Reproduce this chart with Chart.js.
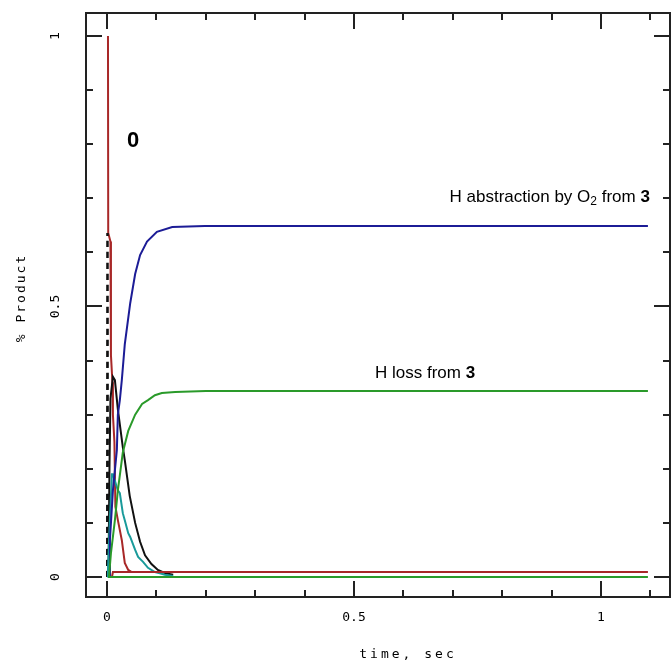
<!DOCTYPE html>
<html>
<head>
<meta charset="utf-8">
<script src="https://cdn.jsdelivr.net/npm/chart.js@4"></script>
<style>
  body { margin: 0; background: #fff; }
  canvas { display: block; }
</style>
</head>
<body>
<canvas id="chart" width="671" height="664"></canvas>
<script>
// [time in sec, fraction of product]
const reactant0 = [
  [0.002, 1.0], [0.0025, 0.636], [0.007, 0.62], [0.008, 0.41], [0.011, 0.36],
  [0.012, 0.30], [0.015, 0.25], [0.017, 0.13], [0.022, 0.105], [0.03, 0.068],
  [0.036, 0.026], [0.043, 0.013], [0.05, 0.009]
];
const minorRed = [[0.010, 0], [0.012, 0.009], [1.095, 0.009]];
const spikeDashed = [[0.0005, 0], [0.001, 0.636], [0.0015, 0]];
const blackInter = [
  [0.003, 0], [0.005, 0.2], [0.007, 0.33], [0.012, 0.37], [0.016, 0.364],
  [0.022, 0.31], [0.032, 0.24], [0.036, 0.216], [0.046, 0.15], [0.057, 0.10],
  [0.067, 0.065], [0.077, 0.04], [0.09, 0.024], [0.103, 0.013], [0.118, 0.007],
  [0.134, 0.004]
];
const tealInter = [
  [0.001, 0], [0.002, 0.013], [0.006, 0.11], [0.01, 0.19], [0.012, 0.19],
  [0.022, 0.16], [0.026, 0.155], [0.032, 0.118], [0.036, 0.105], [0.043, 0.081],
  [0.047, 0.074], [0.057, 0.05], [0.063, 0.037], [0.073, 0.028], [0.083, 0.017],
  [0.097, 0.009], [0.107, 0.007], [0.117, 0.004], [0.134, 0.002]
];
const abstractionO2 = [
  [0.005, 0], [0.006, 0.07], [0.012, 0.16], [0.02, 0.235], [0.022, 0.30],
  [0.026, 0.327], [0.03, 0.364], [0.036, 0.43], [0.047, 0.506], [0.057, 0.56],
  [0.067, 0.595], [0.081, 0.62], [0.101, 0.638], [0.132, 0.647], [0.198, 0.649],
  [1.095, 0.649]
];
const hLoss = [
  [0.004, 0], [0.008, 0.044], [0.016, 0.105], [0.022, 0.16], [0.032, 0.23],
  [0.043, 0.27], [0.057, 0.30], [0.071, 0.32], [0.083, 0.327], [0.097, 0.336],
  [0.111, 0.34], [0.138, 0.342], [0.2, 0.344], [1.095, 0.344]
];
const greenZero = [[0.002, 0], [1.095, 0]];

const xMinor = [0, 0.1, 0.2, 0.3, 0.4, 0.5, 0.6, 0.7, 0.8, 0.9, 1, 1.1];
const yMinor = [0, 0.1, 0.2, 0.3, 0.4, 0.5, 0.6, 0.7, 0.8, 0.9, 1];
const majorTicks = [0, 0.5, 1];
const tickLabels = ['0', '0.5', '1'];

const toXY = arr => arr.map(p => ({ x: p[0], y: p[1] }));
const line = (data, color, extra) => Object.assign({
  data: toXY(data), borderColor: color, borderWidth: 2,
  showLine: true, pointRadius: 0, fill: false, tension: 0
}, extra || {});

const axisFont = '13px "DejaVu Sans Mono"';

function drawRich(ctx, parts, x, y, alignRight) {
  let total = 0;
  parts.forEach(p => { ctx.font = p.font; total += ctx.measureText(p.t).width; });
  let cx = alignRight ? x - total : x;
  parts.forEach(p => {
    ctx.font = p.font;
    ctx.fillText(p.t, cx, y + (p.dy || 0));
    cx += ctx.measureText(p.t).width;
  });
}

const framePlugin = {
  id: 'frame',
  afterDraw(chart) {
    const { ctx, chartArea: a, scales: { x, y } } = chart;
    ctx.save();
    ctx.strokeStyle = '#222';
    ctx.lineWidth = 2;
    ctx.strokeRect(a.left, a.top, a.right - a.left, a.bottom - a.top);

    ctx.beginPath();
    xMinor.forEach(v => {
      const px = Math.round(x.getPixelForValue(v));
      const len = majorTicks.includes(v) ? 16 : 7;
      ctx.moveTo(px, a.top); ctx.lineTo(px, a.top + len);
      ctx.moveTo(px, a.bottom); ctx.lineTo(px, a.bottom - len);
    });
    yMinor.forEach(v => {
      const py = Math.round(y.getPixelForValue(v));
      const len = majorTicks.includes(v) ? 16 : 7;
      ctx.moveTo(a.left, py); ctx.lineTo(a.left + len, py);
      ctx.moveTo(a.right, py); ctx.lineTo(a.right - len, py);
    });
    ctx.stroke();

    // axis labels
    ctx.fillStyle = '#000';
    ctx.font = axisFont;
    ctx.textAlign = 'center';
    ctx.textBaseline = 'middle';
    majorTicks.forEach((v, i) => {
      ctx.fillText(tickLabels[i], x.getPixelForValue(v), 618);
      ctx.save();
      ctx.translate(56, y.getPixelForValue(v));
      ctx.rotate(-Math.PI / 2);
      ctx.fillText(tickLabels[i], 0, 0);
      ctx.restore();
    });
    ctx.letterSpacing = '3px';
    ctx.fillText('time, sec', 408, 655);
    ctx.letterSpacing = '2px';
    ctx.save();
    ctx.translate(22, 298);
    ctx.rotate(-Math.PI / 2);
    ctx.fillText('% Product', 0, 0);
    ctx.restore();
    ctx.letterSpacing = '0px';

    // annotations
    ctx.textAlign = 'left';
    ctx.textBaseline = 'alphabetic';
    ctx.fillStyle = '#000';
    ctx.font = 'bold 22px "Liberation Sans"';
    ctx.fillText('0', x.getPixelForValue(0.0405), y.getPixelForValue(0.795));
    const reg = '17px "Liberation Sans"', bold = 'bold 17px "Liberation Sans"';
    drawRich(ctx, [
      { t: 'H abstraction by O', font: reg },
      { t: '2', font: '12px "Liberation Sans"', dy: 3 },
      { t: ' from ', font: reg },
      { t: '3', font: bold }
    ], x.getPixelForValue(1.099), y.getPixelForValue(0.693), true);
    drawRich(ctx, [
      { t: 'H loss from ', font: reg },
      { t: '3', font: bold }
    ], x.getPixelForValue(0.5425), y.getPixelForValue(0.368), false);
    ctx.restore();
  }
};

new Chart(document.getElementById('chart'), {
  type: 'scatter',
  data: {
    datasets: [
      line(greenZero, '#2a9a2a'),
      line(minorRed, '#a82828'),
      line(hLoss, '#2a9a2a'),
      line(abstractionO2, '#1c1c96'),
      line(tealInter, '#1a9a9a'),
      line(blackInter, '#111111'),
      line(spikeDashed, '#111111', { borderDash: [6, 5], borderWidth: 2.5 }),
      line(reactant0, '#a82828')
    ]
  },
  options: {
    responsive: false,
    animation: false,
    devicePixelRatio: 1,
    layout: { padding: { top: 13, right: 1, left: 0, bottom: 0 } },
    plugins: { legend: { display: false }, tooltip: { enabled: false } },
    scales: {
      x: {
        type: 'linear', min: -0.0425, max: 1.1397,
        grid: { display: false }, border: { display: false },
        ticks: { display: false },
        afterFit: s => { s.height = 67; }
      },
      y: {
        type: 'linear', min: -0.037, max: 1.0425,
        grid: { display: false }, border: { display: false },
        ticks: { display: false },
        afterFit: s => { s.width = 86; }
      }
    }
  },
  plugins: [framePlugin]
});
</script>
</body>
</html>
